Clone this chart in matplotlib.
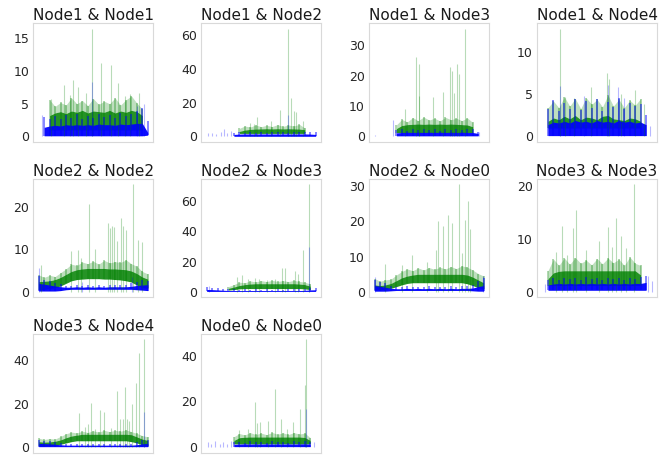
import numpy as np
import matplotlib
matplotlib.use("Agg")
import matplotlib.pyplot as plt

na = None

# panel titles and y ticks
titles = ["Node1 & Node1", "Node1 & Node2", "Node1 & Node3", "Node1 & Node4",
          "Node2 & Node2", "Node2 & Node3", "Node2 & Node0", "Node3 & Node3",
          "Node3 & Node4", "Node0 & Node0"]
yticks = [[0, 5, 10, 15], [0, 20, 40, 60], [0, 10, 20, 30], [0, 5, 10],
          [0, 10, 20], [0, 20, 40, 60], [0, 10, 20, 30], [0, 10, 20],
          [0, 20, 40], [0, 20, 40]]

# time axis (percent of the run), bands read every 5 %
x = np.arange(0, 101, 5)

# green series: bottom of band, top of dense core, top of noisy band
green_low = [
    [na, na, 1.0, 1.0, 1.0, 1.0, 1.0, 1.0, 1.0, 1.0, 1.0, 1.0, 1.0, 1.0, 1.0, 1.0, 1.0, 1.0, 1.0, 1.0, na],
    [na, na, na, na, na, na, 1.8, 1.8, 1.8, 1.8, 1.8, 1.8, 1.8, 1.8, 1.8, 1.8, 1.8, 1.8, 1.8, na, na],
    [na, na, na, na, 1.3, 1.3, 1.3, 1.3, 1.3, 1.3, 1.3, 1.3, 1.3, 1.3, 1.3, 1.3, 1.3, 1.3, 1.3, na, na],
    [na, 1.0, 1.0, 1.0, 1.0, 1.0, 1.0, 1.0, 1.0, 1.0, 1.0, 1.0, 1.0, 1.0, 1.0, 1.0, 1.0, 1.0, 1.0, na, na],
    [0.5, 0.6, 0.8, 1.0, 1.4, 2.0, 2.6, 2.9, 3.0, 3.1, 3.1, 3.1, 3.0, 3.0, 2.9, 2.8, 2.6, 2.3, 1.6, 1.0, 0.8],
    [na, na, na, na, 1.2, 1.5, 2.0, 2.2, 2.2, 2.2, 2.2, 2.2, 2.2, 2.2, 2.2, 2.2, 2.2, 2.2, 2.0, 1.5, na],
    [0.5, 0.6, 0.8, 1.0, 1.5, 2.0, 2.4, 2.6, 2.6, 2.6, 2.6, 2.6, 2.6, 2.6, 2.6, 2.6, 2.6, 2.3, 1.8, 1.2, 0.8],
    [na, 1.2, 1.2, 1.2, 1.2, 1.2, 1.2, 1.2, 1.2, 1.2, 1.2, 1.2, 1.2, 1.2, 1.2, 1.2, 1.2, 1.2, 1.2, na, na],
    [0.5, 0.6, 0.8, 1.0, 1.4, 2.0, 2.6, 3.0, 3.0, 3.0, 3.0, 3.0, 3.0, 3.0, 3.0, 3.0, 3.0, 2.6, 2.0, 1.2, 0.8],
    [na, na, na, na, na, 1.5, 1.5, 1.5, 1.5, 1.5, 1.5, 1.5, 1.5, 1.5, 1.5, 1.5, 1.5, 1.5, 1.5, 1.5, na],
]
green_core = [
    [na, na, 3.2, 3.6, 3.8, 3.5, 3.9, 3.7, 4.0, 3.6, 3.9, 3.8, 3.7, 4.0, 3.6, 3.9, 3.7, 4.0, 3.8, 3.2, na],
    [na, na, na, na, na, na, 3.0, 3.8, 4.2, 4.4, 4.5, 4.6, 4.5, 4.6, 4.5, 4.6, 4.5, 4.4, 4.0, na, na],
    [na, na, na, na, 2.6, 3.6, 3.9, 4.0, 4.1, 4.0, 4.1, 4.0, 4.1, 4.0, 4.1, 4.0, 3.9, 3.8, 3.2, na, na],
    [na, 1.8, 2.2, 2.0, 2.4, 2.1, 2.5, 2.0, 2.3, 2.2, 2.0, 2.4, 2.5, 2.1, 2.0, 1.9, 2.2, 2.1, 1.8, na, na],
    [2.4, 2.5, 2.6, 2.9, 3.4, 4.1, 4.8, 5.2, 5.4, 5.5, 5.5, 5.5, 5.5, 5.4, 5.4, 5.3, 5.2, 4.9, 4.3, 3.5, 3.0],
    [na, na, na, na, 2.4, 3.2, 4.2, 4.8, 5.2, 5.4, 5.4, 5.4, 5.4, 5.4, 5.4, 5.4, 5.4, 5.2, 4.8, 3.8, na],
    [2.0, 1.8, 2.0, 2.4, 3.2, 4.0, 4.5, 4.8, 5.0, 5.0, 5.0, 5.0, 5.0, 5.0, 5.0, 5.0, 5.0, 4.8, 4.2, 3.4, 2.6],
    [na, 2.5, 3.6, 3.9, 4.0, 4.0, 4.0, 4.0, 4.0, 4.0, 4.0, 4.0, 4.0, 4.0, 4.0, 4.0, 4.0, 4.0, 3.2, na, na],
    [2.6, 2.4, 2.5, 2.8, 3.4, 4.4, 5.2, 5.6, 6.0, 6.0, 6.0, 6.0, 6.0, 6.0, 6.0, 6.0, 6.0, 5.8, 4.8, 3.8, 3.2],
    [na, na, na, na, na, 3.0, 4.2, 4.4, 4.5, 4.5, 4.5, 4.5, 4.5, 4.5, 4.5, 4.5, 4.5, 4.5, 4.3, 3.0, na],
]
green_top = [
    [na, na, 5.6, 4.6, 5.2, 4.8, 5.9, 5.0, 5.5, 4.7, 5.8, 4.9, 5.4, 5.0, 5.9, 4.8, 5.6, 6.2, 5.1, 4.2, na],
    [na, na, na, na, na, na, 4.8, 6.2, 5.6, 6.8, 5.8, 6.6, 5.9, 7.0, 6.0, 6.8, 6.2, 7.2, 5.0, na, na],
    [na, na, na, na, 3.8, 5.6, 4.8, 6.2, 5.2, 6.4, 5.4, 6.0, 5.1, 6.3, 5.5, 6.0, 5.2, 6.1, 4.6, na, na],
    [na, 3.4, 4.2, 3.4, 4.7, 3.6, 4.5, 3.3, 4.6, 3.8, 4.4, 3.5, 4.9, 3.6, 4.4, 3.4, 4.3, 3.7, 4.5, na, na],
    [4.0, 3.4, 3.9, 3.6, 4.5, 5.4, 6.5, 6.2, 7.0, 6.6, 7.2, 6.5, 7.4, 6.8, 7.1, 6.9, 7.5, 6.6, 6.0, 4.8, 4.2],
    [na, na, na, na, 3.5, 4.8, 6.4, 6.0, 7.2, 6.6, 7.4, 6.8, 7.6, 6.9, 7.4, 6.8, 7.6, 6.9, 6.4, 5.2, na],
    [3.8, 3.0, 3.4, 3.6, 4.8, 5.8, 6.5, 6.0, 6.8, 6.2, 6.9, 6.4, 7.0, 6.5, 7.2, 6.6, 7.4, 7.0, 6.2, 5.2, 4.5],
    [na, 4.0, 6.2, 5.0, 6.4, 5.2, 6.5, 5.4, 6.0, 5.1, 6.3, 5.3, 6.4, 5.5, 6.2, 5.0, 6.6, 5.4, 5.0, na, na],
    [4.2, 3.6, 4.0, 3.8, 5.0, 6.2, 7.0, 6.6, 7.4, 6.8, 7.6, 7.0, 7.8, 7.2, 7.8, 7.4, 8.0, 7.2, 6.4, 5.4, 4.8],
    [na, na, na, na, na, 4.6, 6.0, 5.4, 6.4, 5.6, 6.2, 5.5, 6.5, 5.7, 6.3, 5.6, 6.4, 5.8, 6.2, 4.2, na],
]

# blue series: same three levels
blue_low = [
    [na, 0.1, 0.1, 0.1, 0.1, 0.1, 0.1, 0.1, 0.1, 0.1, 0.1, 0.1, 0.1, 0.1, 0.1, 0.1, 0.1, 0.1, 0.1, 0.1, 0.2],
    [na, na, na, na, na, 0.1, 0.1, 0.1, 0.1, 0.1, 0.1, 0.1, 0.1, 0.1, 0.1, 0.1, 0.1, 0.1, 0.1, 0.1, 0.1],
    [na, na, na, na, 0.2, 0.2, 0.2, 0.2, 0.2, 0.2, 0.2, 0.2, 0.2, 0.2, 0.2, 0.2, 0.2, 0.2, 0.2, 0.2, na],
    [na, 0.1, 0.1, 0.1, 0.1, 0.1, 0.1, 0.1, 0.1, 0.1, 0.1, 0.1, 0.1, 0.1, 0.1, 0.1, 0.1, 0.1, 0.1, 0.1, na],
    [0.2, 0.2, 0.2, 0.2, 0.3, 0.5, 0.6, 0.6, 0.6, 0.6, 0.6, 0.6, 0.6, 0.6, 0.6, 0.6, 0.6, 0.6, 0.5, 0.4, 0.3],
    [0.3, 0.3, 0.3, 0.3, 0.3, 0.3, 0.3, 0.3, 0.3, 0.3, 0.3, 0.3, 0.3, 0.3, 0.3, 0.3, 0.3, 0.3, 0.3, 0.3, 0.3],
    [0.2, 0.2, 0.2, 0.3, 0.4, 0.4, 0.4, 0.4, 0.4, 0.4, 0.4, 0.4, 0.4, 0.4, 0.4, 0.4, 0.4, 0.4, 0.3, 0.2, 0.2],
    [na, 0.3, 0.3, 0.3, 0.3, 0.3, 0.3, 0.3, 0.3, 0.3, 0.3, 0.3, 0.3, 0.3, 0.3, 0.3, 0.3, 0.3, 0.3, 0.3, na],
    [0.3, 0.3, 0.3, 0.3, 0.3, 0.3, 0.3, 0.3, 0.3, 0.3, 0.3, 0.3, 0.3, 0.3, 0.3, 0.3, 0.3, 0.3, 0.3, 0.3, 0.3],
    [na, na, na, na, na, 0.3, 0.3, 0.3, 0.3, 0.3, 0.3, 0.3, 0.3, 0.3, 0.3, 0.3, 0.3, 0.3, 0.3, 0.3, na],
]
blue_core = [
    [na, 1.4, 1.6, 1.7, 1.6, 1.8, 1.7, 1.8, 1.7, 1.8, 1.7, 1.9, 1.8, 1.8, 1.7, 1.9, 1.8, 1.9, 2.0, 2.0, 0.6],
    [na, na, na, na, na, 1.2, 1.4, 1.5, 1.5, 1.5, 1.5, 1.5, 1.5, 1.5, 1.5, 1.5, 1.5, 1.5, 1.5, 1.4, 1.2],
    [na, na, na, na, 1.2, 1.3, 1.4, 1.3, 1.4, 1.3, 1.4, 1.3, 1.4, 1.3, 1.4, 1.3, 1.4, 1.3, 1.3, 1.0, na],
    [na, 1.4, 1.7, 1.6, 1.8, 1.6, 1.9, 1.7, 1.8, 1.6, 1.9, 1.7, 1.8, 1.6, 1.9, 1.7, 1.8, 1.6, 1.7, 1.4, na],
    [2.0, 1.8, 1.6, 1.4, 1.2, 1.1, 1.1, 1.2, 1.1, 1.2, 1.1, 1.2, 1.1, 1.2, 1.2, 1.2, 1.2, 1.3, 1.5, 1.6, 1.7],
    [1.6, 1.5, 1.3, 1.1, 0.9, 0.9, 0.9, 0.9, 0.9, 0.9, 0.9, 0.9, 0.9, 0.9, 0.9, 0.9, 0.9, 0.9, 1.0, 1.3, 1.4],
    [1.8, 1.6, 1.3, 1.0, 0.9, 0.9, 1.0, 0.9, 1.0, 0.9, 1.0, 0.9, 1.0, 0.9, 1.0, 0.9, 1.0, 1.0, 1.1, 1.5, 1.8],
    [na, 1.3, 1.5, 1.6, 1.5, 1.6, 1.5, 1.6, 1.5, 1.6, 1.5, 1.6, 1.5, 1.6, 1.5, 1.6, 1.5, 1.6, 1.6, 1.8, na],
    [1.8, 1.7, 1.6, 1.4, 1.2, 1.0, 1.0, 1.0, 1.0, 1.0, 1.0, 1.0, 1.0, 1.0, 1.0, 1.0, 1.0, 1.0, 1.2, 1.6, 1.8],
    [na, na, na, na, na, 1.3, 1.4, 1.5, 1.4, 1.5, 1.4, 1.5, 1.4, 1.5, 1.4, 1.5, 1.4, 1.5, 1.5, 1.4, na],
]
blue_top = [
    [na, 3.0, 2.6, 3.1, 2.7, 3.3, 2.8, 3.4, 2.7, 3.2, 2.9, 3.5, 3.0, 3.3, 2.8, 3.6, 3.1, 3.4, 3.9, 4.3, 2.4],
    [na, na, na, na, na, 2.2, 2.6, 2.2, 2.8, 2.3, 2.7, 2.2, 2.9, 2.4, 2.6, 2.3, 2.8, 2.4, 2.7, 2.9, 2.5],
    [na, na, na, na, 2.0, 2.4, 1.9, 2.5, 2.0, 2.6, 2.1, 2.4, 1.9, 2.5, 2.2, 2.6, 2.0, 2.4, 2.3, 1.5, na],
    [na, 3.2, 4.3, 3.0, 4.0, 3.3, 4.5, 3.1, 4.2, 3.4, 4.4, 3.0, 4.1, 3.5, 4.6, 3.2, 4.0, 3.6, 3.8, 2.6, na],
    [3.8, 2.8, 2.5, 2.2, 1.8, 1.5, 1.5, 1.6, 1.5, 1.6, 1.5, 1.6, 1.5, 1.7, 1.6, 1.7, 1.7, 2.2, 2.4, 2.8, 2.6],
    [3.0, 2.6, 2.8, 2.2, 1.8, 1.6, 1.5, 1.7, 1.5, 1.6, 1.5, 1.7, 1.5, 1.6, 1.5, 1.7, 1.6, 1.8, 2.0, 2.8, 2.6],
    [3.4, 2.8, 2.5, 1.8, 1.5, 1.4, 1.6, 1.4, 1.5, 1.4, 1.6, 1.4, 1.5, 1.4, 1.6, 1.5, 1.6, 1.6, 2.0, 3.0, 4.0],
    [na, 2.2, 2.6, 2.3, 2.7, 2.4, 2.6, 2.3, 2.8, 2.4, 2.6, 2.3, 2.7, 2.4, 2.6, 2.3, 2.7, 2.5, 2.8, 3.0, na],
    [3.4, 2.8, 3.0, 2.4, 2.0, 1.6, 1.5, 1.7, 1.5, 1.6, 1.5, 1.7, 1.5, 1.6, 1.5, 1.7, 1.6, 1.7, 2.4, 3.2, 3.4],
    [na, na, na, na, na, 2.2, 2.5, 2.1, 2.6, 2.2, 2.5, 2.0, 2.6, 2.3, 2.5, 2.1, 2.6, 2.2, 2.6, 2.4, na],
]

# isolated peaks: position (percent of run) and height
green_peak_x = [
    [11, 23, 29, 31, 36, 43, 49, 57, 66, 73, 79, 84, 92],
    [40, 43, 46, 59, 67, 75, 77, 80, 82, 88],
    [28, 37.8, 40.4, 41, 54, 62.6, 69, 70.6, 72.7, 75.4, 77.8, 83],
    [16, 21, 29, 44.6, 59, 61, 72, 85, 93],
    [2.4, 30, 36, 39, 45.7, 52, 64, 65.5, 67.4, 69, 72, 75.4, 77, 80, 86.4, 91, 94.6],
    [28, 32, 38, 44, 48, 55, 63, 69, 72, 81, 83.5, 88.8, 94],
    [9.4, 25, 34, 48, 56, 57.7, 62.3, 67.4, 71.4, 77.5, 80, 82.7, 85.8, 87.6],
    [12.4, 17.6, 22, 28.3, 30.7, 40, 51.8, 60.4, 64, 67.1, 71.7, 77, 84.2],
    [36.5, 42, 45.1, 47.9, 52, 56.4, 59.5, 66, 71.4, 74.7, 77, 79, 81, 83, 86, 88.8, 92, 96.8],
    [30, 38, 43.9, 46, 49, 56, 63, 68.2, 74, 79.6, 85.8, 90.4, 91],
]
green_peak_h = [
    [5.8, 7.8, 6.4, 8.6, 7.5, 6.6, 16.5, 11.2, 10.9, 8.2, 6.2, 6.5, 6.7],
    [8.0, 7.5, 11.3, 8.9, 15.8, 64, 22.8, 14.9, 14.5, 9.3],
    [9.0, 26, 13.4, 23.8, 13, 14.5, 22.7, 21.6, 14.2, 23.8, 20.5, 35.5],
    [12.8, 4.7, 4.6, 5.9, 7.5, 6.8, 5.0, 5.5, 3.9],
    [6.2, 9.6, 9.8, 8.0, 20.5, 10, 16.2, 15, 15.5, 15.3, 12, 17.4, 15.5, 14.5, 25.3, 12.2, 11.6],
    [9.5, 11, 8.5, 9.2, 8.5, 8, 8.6, 16, 15.6, 14, 12, 27.6, 71],
    [8.0, 7.5, 10.5, 8.5, 12, 20, 18.7, 21.8, 19.6, 30.6, 11, 20.5, 25.8, 17.8],
    [7.6, 12.4, 7.0, 12.1, 15.5, 8.0, 9.6, 12.2, 8.4, 14, 10.5, 8.3, 20.4],
    [15.8, 9.5, 10.5, 20.2, 8.5, 17, 16.4, 9, 26, 12.8, 13, 27.5, 13, 12, 20, 29.5, 43.4, 49.5],
    [7.5, 8, 19.6, 10.5, 11, 11.3, 25.3, 12.5, 8, 11, 16.8, 27, 47],
]
blue_peak_x = [
    [3, 49, 90, 97],
    [1, 5, 9, 13, 16, 19, 22, 75],
    [0, 17, 96],
    [15.6, 37.6, 60, 69, 75, 99],
    [0.5, 40, 86],
    [2, 94],
    [0, 99],
    [2.3, 97, 100],
    [96.8],
    [1, 4, 8, 12, 15, 19, 22, 91.3, 98],
]
blue_peak_h = [
    [3.3, 8.3, 4.7, 4.9],
    [1.8, 2.2, 1.7, 2.4, 4.6, 2.3, 3.0, 13],
    [0.5, 5.5, 1.6],
    [6.0, 4.8, 6.1, 5.9, 4.6, 1.3],
    [5.7, 2.4, 3.4],
    [3.6, 29.6],
    [4.2, 4.5],
    [1.5, 3.0, 2.0],
    [16],
    [2.4, 1.5, 2.8, 1.6, 2.2, 1.4, 2.6, 16.7, 2.5],
]


def draw_band(ax, lo, core, top, color, a_wash, a_hair, a_core):
    lo = np.array(lo, dtype=float)
    core = np.array(core, dtype=float)
    top = np.array(top, dtype=float)
    ok = ~np.isnan(core)
    # noisy outer part: light wash plus hair-like streaks
    if a_wash > 0:
        ax.fill_between(x, core, top, color=color, alpha=a_wash, lw=0)
    ax.vlines(x[ok], lo[ok], top[ok], colors=color, lw=1.1, alpha=a_hair)
    # dense part
    ax.fill_between(x, lo, core, color=color, alpha=a_core, lw=0)


fig, axes = plt.subplots(3, 4, figsize=(6.65, 4.55), dpi=100)
fig.subplots_adjust(left=0.05, right=0.988, bottom=0.005, top=0.949,
                    wspace=0.4, hspace=0.31)
axes = axes.ravel()

for i, ax in enumerate(axes):
    if i >= len(titles):
        ax.axis("off")
        continue

    ax.vlines(green_peak_x[i], 0, green_peak_h[i], colors="green", lw=0.8, alpha=0.28)
    draw_band(ax, green_low[i], green_core[i], green_top[i], "green", 0.25, 0.4, 0.85)

    ax.vlines(blue_peak_x[i], 0, blue_peak_h[i], colors="blue", lw=0.8, alpha=0.28)
    draw_band(ax, blue_low[i], blue_core[i], blue_top[i], "blue", 0.0, 0.6, 0.95)

    ax.set_xlim(-5, 105)
    ax.set_xticks([])
    ax.set_yticks(yticks[i])
    ax.tick_params(axis="y", length=0, labelsize=9, pad=3, labelcolor="#262626")
    for s in ax.spines.values():
        s.set_color("#d9d9d9")
        s.set_linewidth(0.8)
    ax.set_title(titles[i], fontsize=11, pad=2, color="#1a1a1a")

fig.savefig("out.png", dpi=100)
